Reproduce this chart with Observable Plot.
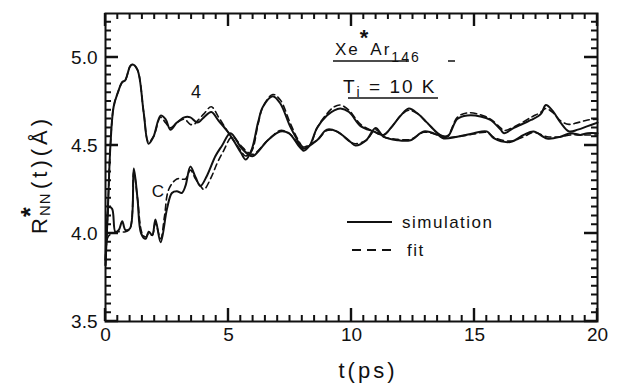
<!DOCTYPE html>
<html><head><meta charset="utf-8">
<script src="https://cdn.jsdelivr.net/npm/d3@7"></script>
<script src="https://cdn.jsdelivr.net/npm/@observablehq/plot@0.6"></script>
<style>body{margin:0;background:#fff;}</style>
</head><body><div id="chart"></div>
<script>
// ---- data ----
const sim4T = [0,0.1,0.2,0.33,0.5,0.68,0.8,1.0,1.1,1.3,1.55,1.75,1.95,2.24,2.44,2.64,2.9,3.2,3.45,3.74,4.0,4.3,4.6,4.96,5.2,5.5,5.7,5.95,6.2,6.4,6.8,7.1,7.5,7.8,8.05,8.3,8.6,9.0,9.3,9.55,9.9,10.37,10.9,11.3,11.6,12.0,12.33,12.7,13.07,13.6,13.9,14.3,14.7,15.24,15.65,16.06,16.2,16.6,17.3,17.7,17.9,18.16,18.5,18.84,19.2,19.6,20.0];
const sim4V = [3.82,4.15,4.5,4.72,4.80,4.86,4.87,4.95,4.96,4.93,4.69,4.51,4.55,4.67,4.65,4.59,4.63,4.66,4.66,4.63,4.66,4.69,4.64,4.58,4.53,4.46,4.42,4.48,4.63,4.72,4.78,4.74,4.61,4.53,4.47,4.50,4.60,4.67,4.70,4.71,4.69,4.61,4.58,4.56,4.60,4.67,4.71,4.68,4.63,4.56,4.55,4.65,4.67,4.665,4.645,4.59,4.57,4.60,4.645,4.68,4.73,4.70,4.63,4.58,4.59,4.61,4.63];
const fit4T = [0,0.1,0.2,0.33,0.5,0.68,0.8,1.0,1.1,1.3,1.55,1.75,1.95,2.24,2.44,2.64,2.9,3.2,3.45,3.6,3.74,4.0,4.3,4.6,4.96,5.2,5.5,5.7,5.95,6.2,6.4,6.8,7.1,7.5,7.8,8.05,8.3,8.6,9.0,9.3,9.55,9.9,10.37,10.9,11.3,11.6,12.0,12.33,12.7,13.07,13.6,13.9,14.3,14.7,15.24,15.65,16.06,16.2,16.6,17.3,17.7,17.9,18.16,18.5,18.84,19.2,19.6,20.0];
const fit4V = [3.82,4.15,4.5,4.72,4.80,4.86,4.87,4.95,4.96,4.93,4.69,4.52,4.55,4.66,4.63,4.60,4.63,4.65,4.62,4.62,4.64,4.68,4.72,4.66,4.58,4.53,4.47,4.44,4.47,4.62,4.72,4.79,4.76,4.63,4.54,4.49,4.50,4.60,4.68,4.72,4.73,4.70,4.62,4.58,4.56,4.60,4.67,4.70,4.68,4.63,4.56,4.555,4.66,4.685,4.675,4.65,4.60,4.585,4.605,4.66,4.69,4.71,4.69,4.64,4.62,4.63,4.645,4.65];
const simCT = [0,0.08,0.14,0.27,0.4,0.54,0.68,0.81,1.0,1.15,1.3,1.45,1.63,1.76,1.9,2.03,2.24,2.5,2.7,2.9,3.1,3.25,3.45,3.66,3.86,4.13,4.47,4.74,5.08,5.5,5.8,6.0,6.6,7.1,7.45,7.9,8.0,8.6,9.0,9.4,9.96,10.16,10.6,10.98,11.3,11.86,12.4,12.94,13.5,13.75,14.3,14.97,15.5,15.8,16.46,17.0,17.4,17.95,18.5,18.9,19.3,19.6,20.0];
const simCV = [3.85,4.1,4.15,4.14,4.01,4.02,4.07,4.02,4.03,4.37,4.2,4.0,3.97,4.01,3.99,4.08,3.95,4.14,4.23,4.24,4.23,4.27,4.38,4.32,4.27,4.33,4.44,4.50,4.57,4.49,4.45,4.44,4.53,4.58,4.57,4.49,4.48,4.53,4.59,4.58,4.52,4.50,4.53,4.60,4.55,4.53,4.53,4.58,4.56,4.54,4.55,4.57,4.58,4.54,4.52,4.56,4.58,4.54,4.55,4.57,4.56,4.57,4.57];
const fitCT = [0,0.1,0.27,0.54,0.81,1.0,1.15,1.3,1.49,1.63,1.76,1.9,2.03,2.24,2.4,2.57,2.9,3.25,3.45,3.66,3.86,4.0,4.3,4.54,4.8,5.15,5.5,5.8,6.0,6.6,7.1,7.45,7.9,8.0,8.6,9.0,9.4,9.96,10.16,10.6,10.98,11.3,11.86,12.4,12.94,13.5,13.75,14.3,14.97,15.5,15.8,16.46,17.0,17.4,17.95,18.5,18.9,19.3,19.6,20.0];
const fitCV = [3.85,3.98,4.0,4.01,4.01,4.03,4.35,4.2,4.0,3.98,4.0,3.99,4.06,3.97,4.1,4.25,4.31,4.31,4.36,4.31,4.27,4.25,4.32,4.40,4.47,4.55,4.50,4.46,4.45,4.53,4.585,4.57,4.50,4.49,4.53,4.585,4.58,4.52,4.51,4.53,4.59,4.55,4.535,4.535,4.575,4.56,4.545,4.55,4.565,4.575,4.545,4.525,4.55,4.575,4.55,4.55,4.56,4.56,4.56,4.56];

const xMajor = [0, 5, 10, 15, 20];
const yMajor = [3.5, 4.0, 4.5, 5.0];
const xMinor = [0.5,1,1.5,2,2.5,3,3.5,4,4.5,5.5,6,6.5,7,7.5,8,8.5,9,9.5,10.5,11,11.5,12,12.5,13,13.5,14,14.5,15.5,16,16.5,17,17.5,18,18.5,19,19.5];
const yMinor = [3.55,3.6,3.65,3.7,3.75,3.8,3.85,3.9,3.95,4.05,4.1,4.15,4.2,4.25,4.3,4.35,4.4,4.45,4.55,4.6,4.65,4.7,4.75,4.8,4.85,4.9,4.95,5.05,5.1,5.15,5.2];

const FONT = "'Liberation Sans', Arial, sans-serif";
const INK = "#111";
const W = 644, H = 383, ML = 105, MR = 47, MT = 13, MB = 62;
const XDOM = [0, 20], YDOM = [3.5, 5.25];
const toRows = (T, V) => T.map((t, i) => ({t, v: V[i]}));
const tickRowsX = (vals, edge) => vals.map(v => ({x: v, y: edge}));
const tickRowsY = (vals, edge) => vals.map(v => ({x: edge, y: v}));

const plot = Plot.plot({
  width: W, height: H,
  marginLeft: ML, marginRight: MR, marginTop: MT, marginBottom: MB,
  x: {domain: XDOM},
  y: {domain: YDOM},
  style: {fontFamily: FONT, fontSize: "19px", color: INK, background: "#fff"},
  marks: [
    Plot.axisX(xMajor, {anchor: "bottom", tickSize: 0, tickPadding: 6, label: null, tickFormat: d => String(d)}),
    Plot.axisY(yMajor, {anchor: "left", tickSize: 0, tickPadding: 8, label: null, tickFormat: d => d.toFixed(1)}),
    Plot.line(toRows(fit4T, fit4V), {x: "t", y: "v", stroke: INK, strokeWidth: 1.6, strokeDasharray: "6,4", curve: "catmull-rom"}),
    Plot.line(toRows(fitCT, fitCV), {x: "t", y: "v", stroke: INK, strokeWidth: 1.6, strokeDasharray: "6,4", curve: "catmull-rom"}),
    Plot.line(toRows(sim4T, sim4V), {x: "t", y: "v", stroke: INK, strokeWidth: 2, curve: "catmull-rom"}),
    Plot.line(toRows(simCT, simCV), {x: "t", y: "v", stroke: INK, strokeWidth: 2, curve: "catmull-rom"}),
    // inward ticks as half-length dots of text glyphs are unreliable; use vertical/horizontal bar "text" via Plot.text? no — use Plot.dot with custom symbol
    Plot.frame({stroke: INK, strokeWidth: 2})
  ]
});
document.getElementById("chart").appendChild(plot);

const svg = d3.select(plot);
const fx = d3.scaleLinear().domain(XDOM).range([ML, W - MR]);
const fy = d3.scaleLinear().domain(YDOM).range([H - MB, MT]);

// ---- annotations ----
const ann = svg.append("g").attr("font-family", FONT).attr("fill", INK).attr("text-anchor", "start");

ann.append("text").attr("x", 368).attr("y", 378).attr("text-anchor", "middle")
  .attr("font-size", 22).attr("letter-spacing", 3).text("t(ps)");
const yl = ann.append("g").attr("transform", "translate(47,234) rotate(-90)");
yl.append("text").attr("x", 0).attr("y", 0).attr("font-size", 22).text("R");
yl.append("text").attr("x", 17).attr("y", -8).attr("font-size", 25).attr("font-weight", "bold").text("*");
yl.append("text").attr("x", 18).attr("y", 3).attr("font-size", 15).attr("letter-spacing", 1).text("NN");
yl.append("text").attr("x", 45).attr("y", 0).attr("font-size", 22).attr("letter-spacing", 4).text("(t)(Å)");

ann.append("text").attr("x", 196).attr("y", 98).attr("text-anchor", "middle").attr("font-size", 18).text("4");
ann.append("text").attr("x", 158).attr("y", 197).attr("text-anchor", "middle").attr("font-size", 17).text("C");

const t1 = ann.append("text").attr("x", 335).attr("y", 55).attr("font-size", 17).attr("letter-spacing", 2);
t1.append("tspan").text("Xe");
t1.append("tspan").attr("dy", -10).attr("font-size", 22).attr("font-weight", "bold").text("*");
t1.append("tspan").attr("dy", 10).text("Ar");
t1.append("tspan").attr("dy", 7).attr("font-size", 14).text("146");
ann.append("line").attr("x1", 333).attr("x2", 409).attr("y1", 61).attr("y2", 61).attr("stroke", INK).attr("stroke-width", 1.5);
ann.append("line").attr("x1", 448).attr("x2", 455).attr("y1", 61).attr("y2", 61).attr("stroke", INK).attr("stroke-width", 1.5);
const t2 = ann.append("text").attr("x", 343).attr("y", 93).attr("font-size", 19).attr("letter-spacing", 2);
t2.append("tspan").text("T");
t2.append("tspan").attr("dy", 4).attr("font-size", 14).text("i");
t2.append("tspan").attr("dy", -4).text(" = 10 K");
ann.append("line").attr("x1", 348).attr("x2", 438).attr("y1", 98).attr("y2", 98).attr("stroke", INK).attr("stroke-width", 1.5);

ann.append("line").attr("x1", 347).attr("x2", 392).attr("y1", 222).attr("y2", 222).attr("stroke", INK).attr("stroke-width", 2);
ann.append("text").attr("x", 402).attr("y", 228).attr("font-size", 17).attr("letter-spacing", 1.5).text("simulation");
ann.append("line").attr("x1", 352).attr("x2", 393).attr("y1", 250).attr("y2", 250).attr("stroke", INK).attr("stroke-width", 2).attr("stroke-dasharray", "9,6");
ann.append("text").attr("x", 407).attr("y", 256).attr("font-size", 17).attr("letter-spacing", 1.5).text("fit");

// ---- inward ticks on all four sides, as one long polyline per side (comb shape) ----
function combX(vals, len, yEdge, dir) {
  const pts = [];
  for (const v of vals) {
    const px = fx(v);
    pts.push(`M${px},${yEdge}L${px},${yEdge + dir * len}`);
  }
  return pts.join("");
}
function combY(vals, len, xEdge, dir) {
  const pts = [];
  for (const v of vals) {
    const py = fy(v);
    pts.push(`M${xEdge},${py}L${xEdge + dir * len},${py}`);
  }
  return pts.join("");
}
const tg = svg.append("g").attr("fill", "none").attr("stroke", INK).attr("stroke-linecap", "butt");
const add = (d, w) => tg.append("path").attr("d", d).attr("stroke-width", w);
add(combX(xMajor, 13, H - MB, -1), 2.4);
add(combX(xMinor, 6, H - MB, -1), 2);
add(combX(xMajor, 13, MT, 1), 2.4);
add(combX(xMinor, 6, MT, 1), 2);
add(combY(yMajor, 13, ML, 1), 2.4);
add(combY(yMinor, 6, ML, 1), 2);
add(combY(yMajor, 13, W - MR, -1), 2.4);
add(combY(yMinor, 6, W - MR, -1), 2);
</script></body></html>
